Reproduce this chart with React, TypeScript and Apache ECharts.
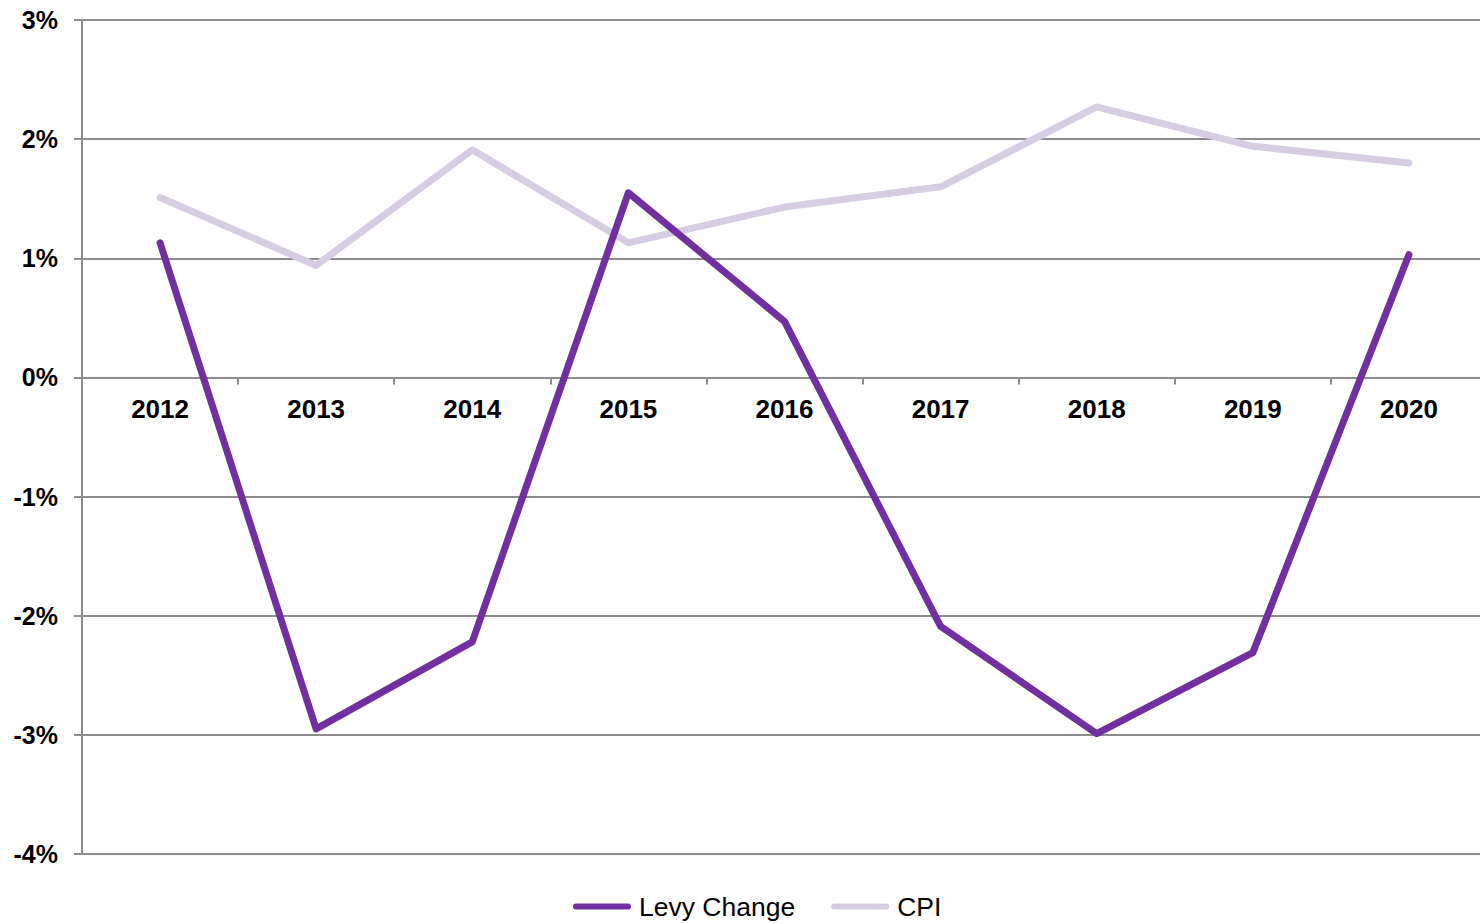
import React, { useEffect, useRef } from "react";
import * as echarts from "echarts";

const years = ["2012", "2013", "2014", "2015", "2016", "2017", "2018", "2019", "2020"];
const levyChange = [1.13, -2.95, -2.22, 1.55, 0.47, -2.09, -2.99, -2.31, 1.03];
const cpi = [1.51, 0.94, 1.91, 1.13, 1.43, 1.6, 2.27, 1.94, 1.8];
const yTicks = { min: -4, max: 3, interval: 1 };

const FONT = "'Liberation Sans', Arial, sans-serif";
const GRID_COLOR = "#8c8c8c";
const PILL = "path://M3,0 L55,0 A3,3 0 0 1 55,6 L3,6 A3,3 0 0 1 3,0 Z";

const GRID_TOP = 20;
const GRID_HEIGHT = 834;
// x axis sits at the 0% line: distance from plot bottom to zero, in pixels
const zeroOffset = (GRID_HEIGHT * (0 - yTicks.min)) / (yTicks.max - yTicks.min);

export default function App() {
  const ref = useRef<HTMLDivElement>(null);
  useEffect(() => {
    if (!ref.current) return;
    const chart = echarts.init(ref.current, null, { renderer: "svg" });
    chart.setOption({
      animation: false,
      backgroundColor: "#ffffff",
      textStyle: { fontFamily: FONT },
      grid: { left: 82, width: 1405, top: GRID_TOP, height: GRID_HEIGHT, containLabel: false },
      legend: {
        top: 888,
        left: 568,
        itemWidth: 58,
        itemHeight: 6,
        itemGap: 36,
        textStyle: { fontFamily: FONT, fontSize: 26.5, color: "#000", padding: [0, 0, 0, 3] },
        data: [
          { name: "Levy Change", icon: PILL, itemStyle: { color: "#7030a0" } },
          { name: "CPI", icon: PILL, itemStyle: { color: "#d6cde3" } },
        ],
      },
      xAxis: {
        type: "category",
        data: years,
        boundaryGap: true,
        offset: -zeroOffset,
        axisLine: { show: true, onZero: false, lineStyle: { color: GRID_COLOR, width: 2 } },
        axisTick: { show: true, length: 7, alignWithLabel: false, lineStyle: { color: GRID_COLOR, width: 2 } },
        axisLabel: { fontFamily: FONT, fontSize: 26, fontWeight: "bold", color: "#000", margin: 19 },
        splitLine: { show: false },
      },
      yAxis: {
        type: "value",
        min: yTicks.min,
        max: yTicks.max,
        interval: yTicks.interval,
        axisLine: { show: true, lineStyle: { color: GRID_COLOR, width: 2 } },
        axisTick: { show: true, length: 8, lineStyle: { color: GRID_COLOR, width: 2 } },
        axisLabel: {
          fontFamily: FONT,
          fontSize: 25,
          fontWeight: "bold",
          color: "#000",
          margin: 24,
          formatter: (v: number) => `${v}%`,
        },
        splitLine: { show: true, lineStyle: { color: GRID_COLOR, width: 2 } },
      },
      series: [
        {
          name: "Levy Change",
          type: "line",
          data: levyChange,
          z: 3,
          symbol: "none",
          showSymbol: false,
          color: "#7030a0",
          lineStyle: { color: "#7030a0", width: 7, cap: "round", join: "round" },
        },
        {
          name: "CPI",
          type: "line",
          data: cpi,
          z: 2,
          symbol: "none",
          showSymbol: false,
          color: "#d6cde3",
          lineStyle: { color: "#d6cde3", width: 7, cap: "round", join: "round" },
        },
      ],
    });
    return () => chart.dispose();
  }, []);
  return (
    <div
      style={{ position: "absolute", left: 0, top: 0, width: 1480, height: 924, overflow: "hidden" }}
    >
      <div ref={ref} style={{ width: 1490, height: 924 }} />
    </div>
  );
}
